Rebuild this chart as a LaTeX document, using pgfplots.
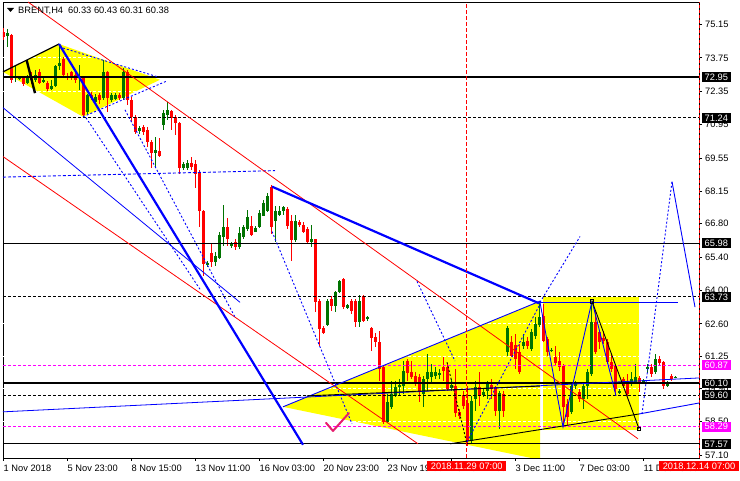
\documentclass[border=0pt]{standalone}
\usepackage{pgfplots}
\pgfplotsset{compat=1.18}
\usepackage{pgfplotstable}
\usepackage{fontspec}
\setmainfont{Liberation Sans}
\definecolor{bull}{RGB}{0,115,0}
\definecolor{bear}{RGB}{255,0,0}
\definecolor{yel}{RGB}{255,255,0}
\definecolor{mag}{RGB}{255,0,255}
\definecolor{blu}{RGB}{0,0,255}
\definecolor{chk}{RGB}{230,30,110}
\newcommand\lab{\fontsize{9.3}{11}\selectfont}

\pgfplotstableread{
k o h l c
0 74.83 75.00 74.50 74.62
2 74.71 74.75 72.70 72.83
5 72.91 72.99 72.57 72.66
7 72.99 73.16 72.66 72.83
9 73.16 73.29 72.66 72.70
11 72.70 72.78 72.37 72.45
15 73.70 73.79 72.91 73.03
16 72.99 73.12 72.83 72.91
17 73.16 73.20 72.83 72.95
18 73.03 73.24 72.70 72.83
20 72.91 72.99 71.28 71.36
22 72.20 72.32 71.99 72.07
24 72.20 72.28 71.82 71.99
26 73.16 73.20 71.49 72.07
29 72.20 72.28 71.99 72.07
31 73.16 73.24 71.78 71.99
32 71.99 72.12 71.07 71.28
33 71.28 71.36 70.57 70.65
35 70.86 70.95 70.53 70.65
36 70.74 70.86 70.03 70.23
37 70.23 70.32 69.15 69.77
39 69.86 70.40 69.61 69.65
42 71.53 71.57 70.74 71.24
43 71.28 71.36 70.53 71.03
44 71.03 71.07 68.86 69.15
47 69.36 69.61 69.06 69.19
48 69.31 69.48 68.31 68.86
49 68.98 69.06 66.64 67.31
50 67.35 67.39 64.59 65.09
52 65.55 65.93 64.97 65.18
56 66.64 67.02 65.85 66.14
58 66.01 66.14 65.68 65.80
62 66.68 67.10 66.26 66.31
67 68.35 68.40 66.35 66.64
71 67.43 67.48 66.56 66.68
72 66.89 67.18 65.22 66.10
74 66.85 66.97 66.64 66.76
75 66.76 66.85 66.39 66.47
76 66.56 66.64 65.93 66.01
78 66.14 66.16 63.09 63.50
79 63.55 63.63 61.67 62.38
80 62.42 62.50 62.17 62.21
82 63.63 63.76 63.13 63.34
85 64.47 64.51 63.21 63.30
87 63.55 63.63 63.00 63.13
88 63.55 63.63 62.46 62.67
90 63.76 63.80 62.67 62.71
92 62.42 62.46 61.46 62.00
93 62.04 62.21 61.62 61.83
94 61.83 62.29 60.20 60.70
95 60.79 60.83 58.41 58.49
101 61.04 61.12 60.20 60.54
102 60.58 61.04 60.29 60.37
103 60.41 60.58 59.99 60.16
104 60.37 60.50 59.32 59.74
110 60.79 61.21 60.20 60.62
111 60.79 60.91 59.78 59.87
113 59.99 60.70 58.70 58.86
114 58.91 59.03 58.61 58.74
115 59.62 59.78 59.03 59.16
116 59.28 59.99 57.49 57.69
119 59.95 60.58 59.16 59.58
122 60.04 60.29 59.45 59.87
123 59.95 59.99 58.74 58.95
125 59.66 59.78 58.70 58.95
127 61.83 62.08 61.21 61.25
128 61.71 62.17 60.70 61.12
129 61.41 61.75 60.50 60.58
131 61.87 62.04 61.54 61.67
135 62.92 63.42 61.83 61.87
136 61.96 62.04 61.25 61.41
138 61.21 61.67 60.83 60.95
139 61.04 61.41 60.62 60.79
140 60.83 60.91 58.28 59.12
141 59.24 59.45 58.36 58.70
144 59.74 59.87 59.32 59.45
148 62.67 63.09 61.33 61.41
149 62.25 62.33 61.54 61.83
150 62.00 62.29 61.75 61.87
151 61.83 61.96 60.91 61.00
152 61.00 61.33 60.58 60.70
153 60.83 60.91 59.58 59.87
155 60.29 60.37 59.91 59.99
156 60.08 60.50 59.58 59.66
159 60.33 60.41 59.74 60.08
162 60.79 60.91 60.37 60.50
164 61.12 61.25 60.83 60.95
165 61.00 61.04 59.87 59.99
167 60.41 60.50 60.20 60.29
}\beartab

\pgfplotstableread{
k o h l c
1 74.67 74.96 74.21 74.79
3 72.91 73.45 72.74 72.95
4 72.91 72.99 72.83 72.92
6 72.70 73.03 72.66 72.91
8 72.83 73.24 72.74 73.03
10 72.74 72.91 72.70 72.83
12 72.45 72.83 72.41 72.57
13 72.57 73.45 72.53 73.41
14 73.41 74.33 73.24 73.54
19 72.91 73.45 72.41 72.99
21 71.49 72.24 71.40 72.20
23 71.91 72.24 71.82 72.12
25 72.07 73.66 71.99 73.16
27 71.99 72.28 71.91 72.20
28 72.03 72.28 71.99 72.20
30 72.07 73.33 71.99 73.16
34 70.69 70.90 70.57 70.82
38 69.77 70.44 69.19 69.90
40 70.95 71.57 70.74 71.45
41 71.36 71.91 71.15 71.57
45 69.15 69.40 69.06 69.31
46 69.15 69.48 69.06 69.36
51 65.05 65.22 64.97 65.13
53 65.18 65.59 65.01 65.43
54 65.34 66.47 65.30 66.31
55 66.26 67.60 65.85 66.64
57 65.85 66.01 65.76 65.93
59 65.80 66.64 65.72 66.39
60 66.26 66.76 66.14 66.64
61 66.56 67.39 66.47 67.06
63 66.47 66.72 66.43 66.60
64 66.64 67.39 66.60 67.23
65 67.14 67.77 67.10 67.68
66 67.31 68.10 67.27 67.94
68 66.89 67.52 66.01 67.31
69 67.18 67.52 67.10 67.35
70 67.31 67.56 67.18 67.48
73 66.10 67.18 66.01 66.89
77 66.01 66.76 65.80 66.14
81 62.54 63.63 62.50 63.55
83 63.34 63.96 63.09 63.92
84 63.92 64.42 63.88 64.38
86 63.25 63.42 63.21 63.38
89 62.67 63.80 62.46 63.55
91 62.79 62.92 62.71 62.88
96 58.49 59.66 58.45 59.32
97 59.12 60.20 59.03 59.66
98 59.58 60.20 59.53 59.95
99 59.95 60.29 59.58 60.04
100 59.99 61.04 59.66 60.62
105 59.66 60.41 59.12 60.29
106 60.29 61.33 59.78 60.58
107 60.37 60.91 60.08 60.58
108 60.41 60.79 60.29 60.58
109 60.45 60.70 60.29 60.54
112 59.91 60.29 59.78 60.04
117 57.69 59.58 57.61 59.37
118 59.45 60.20 58.95 59.95
120 59.62 59.87 59.53 59.74
121 59.78 60.20 59.45 60.08
124 58.95 59.78 58.20 59.70
126 61.41 62.50 61.25 62.42
130 61.67 62.17 61.54 61.83
132 61.54 62.38 61.46 62.25
133 62.08 62.88 61.96 62.59
134 62.54 63.55 62.46 62.88
137 61.50 61.58 61.41 61.51
142 58.91 60.16 58.82 59.99
143 59.99 60.20 59.87 60.08
145 59.45 60.08 59.03 59.99
146 59.99 60.70 59.45 60.58
147 60.50 63.50 60.41 62.67
154 59.74 59.87 59.66 59.78
157 60.08 60.58 59.99 60.29
158 60.16 60.91 60.08 60.37
160 60.16 60.29 60.08 60.24
161 60.70 60.91 60.54 60.79
163 60.58 61.33 60.50 61.12
166 59.99 60.20 59.95 60.12
168 60.33 60.43 60.31 60.38
}\bulltab

\begin{document}
\begin{tikzpicture}
\useasboundingbox (-3pt,-22pt) rectangle (737pt,458pt);
\begin{axis}[
  at={(0,0)}, anchor=south west,
  width=696pt, height=456pt, scale only axis,
  xmin=-0.1, xmax=173.9, ymin=56.975, ymax=76.09,
  clip mode=individual,
  axis line style={line width=0.8pt, black},
  xtick={-0.1,15.9,31.9,47.9,63.9,79.9,95.9,111.9,127.9,143.9,159.9},
  xticklabels={1 Nov 2018, 5 Nov 23:00, 8 Nov 15:00, 13 Nov 11:00, 16 Nov 03:00, 20 Nov 23:00, 23 Nov 19:00, 28 Nov 11:00, 3 Dec 11:00, 7 Dec 03:00, 11 Dec 19:00},
  ytick={57.10,58.50,59.90,61.25,62.60,64.00,65.40,66.80,68.15,69.55,70.95,72.35,73.75,75.15},
  yticklabels={57.10,58.50,59.90,61.25,62.60,64.00,65.40,66.80,68.15,69.55,70.95,72.35,73.75,75.15},
  xtick pos=bottom, ytick pos=right, yticklabel pos=right,
  tick align=outside, major tick length=3pt,
  tick style={black, line width=0.8pt},
  tick label style={font=\lab, black},
  xticklabel style={anchor=north west, inner sep=0pt, yshift=-4pt, xshift=0.5pt},
  yticklabel style={anchor=west, inner sep=0pt, xshift=3pt},
]
% yellow shapes
\addplot[fill=yel, draw=none, forget plot] coordinates {(-0.1,73.16) (13.9,74.33) (39.15,72.83) (19.9,71.28)} -- cycle;
\addplot[fill=yel, draw=none, forget plot] coordinates {(69.9,59.12) (134.15,63.55) (134.15,56.90)} -- cycle;
\addplot[fill=yel, draw=none, forget plot] coordinates {(134.9,63.73) (158.9,63.73) (158.9,58.13) (134.9,58.13)} -- cycle;
% white grid dashes (visible on yellow only)
\foreach \v in {73.75,72.35,62.60,61.25,59.90,58.50}{
  \edef\tmp{\noexpand\addplot[white, line width=0.8pt, dash pattern=on 3pt off 2pt, forget plot] coordinates {(-0.1,\v) (173.9,\v)};}\tmp
}
% candles
\addplot[draw=none, mark=none, forget plot, error bars/.cd, y dir=both, y explicit, error mark=none, error bar style={draw=bear, line width=1pt}]
  table[x=k, y expr={(\thisrow{h}+\thisrow{l})/2}, y error expr={(\thisrow{h}-\thisrow{l})/2}] {\beartab};
\addplot[draw=none, mark=none, forget plot, error bars/.cd, y dir=both, y explicit, error mark=none, error bar style={draw=bear, line width=3pt}]
  table[x=k, y expr={(\thisrow{o}+\thisrow{c})/2}, y error expr={max(abs(\thisrow{c}-\thisrow{o})/2,0.015)}] {\beartab};
\addplot[draw=none, mark=none, forget plot, error bars/.cd, y dir=both, y explicit, error mark=none, error bar style={draw=bull, line width=1pt}]
  table[x=k, y expr={(\thisrow{h}+\thisrow{l})/2}, y error expr={(\thisrow{h}-\thisrow{l})/2}] {\bulltab};
\addplot[draw=none, mark=none, forget plot, error bars/.cd, y dir=both, y explicit, error mark=none, error bar style={draw=bull, line width=3pt}]
  table[x=k, y expr={(\thisrow{o}+\thisrow{c})/2}, y error expr={max(abs(\thisrow{c}-\thisrow{o})/2,0.015)}] {\bulltab};
% horizontal levels
\addplot[black, line width=2pt, forget plot] coordinates {(-0.1,72.95) (173.9,72.95)};
\addplot[black, line width=0.9pt, dash pattern=on 3pt off 2pt, forget plot] coordinates {(-0.1,71.24) (173.9,71.24)};
\addplot[black, line width=0.9pt, forget plot] coordinates {(-0.1,65.98) (173.9,65.98)};
\addplot[black, line width=0.9pt, dash pattern=on 3pt off 2pt, forget plot] coordinates {(-0.1,63.73) (173.9,63.73)};
\addplot[mag, line width=0.9pt, dash pattern=on 3pt off 2pt, forget plot] coordinates {(-0.1,60.87) (173.9,60.87)};
\addplot[black, line width=2pt, forget plot] coordinates {(-0.1,60.10) (173.9,60.10)};
\addplot[black, line width=0.9pt, dash pattern=on 3pt off 2pt, forget plot] coordinates {(-0.1,59.60) (173.9,59.60)};
\addplot[mag, line width=0.9pt, dash pattern=on 3pt off 2pt, forget plot] coordinates {(-0.1,58.29) (173.9,58.29)};
\addplot[black, line width=0.9pt, forget plot] coordinates {(-0.1,57.57) (173.9,57.57)};
\addplot[blu, line width=0.9pt, dash pattern=on 3pt off 2pt, forget plot] coordinates {(-0.1,68.75) (67.9,69.02)};
% red channel lines
\addplot[bear, line width=0.8pt, forget plot] coordinates {(6.15,76.09) (158.65,57.78)};
\addplot[bear, line width=0.8pt, forget plot] coordinates {(-0.1,69.61) (103.65,57.57)};
% left diamond details
\addplot[black, line width=1.2pt, forget plot] coordinates {(-0.1,73.16) (13.9,74.33)};
\addplot[black, line width=2.4pt, forget plot] coordinates {(5.8,73.66) (7.9,72.27)};
\addplot[blu, line width=0.9pt, dash pattern=on 2pt off 2pt, forget plot] coordinates {(14.9,74.16) (38.65,72.95)};
\addplot[blu, line width=0.9pt, dash pattern=on 2pt off 2pt, forget plot] coordinates {(19.9,71.28) (40.9,72.78)};
% blue lines
\addplot[blu, line width=2.2pt, forget plot] coordinates {(13.9,74.33) (74.9,57.53)};
\addplot[blu, line width=0.9pt, dash pattern=on 2pt off 2pt, forget plot] coordinates {(20.65,71.24) (49.15,64.05)};
\addplot[blu, line width=0.9pt, dash pattern=on 2pt off 2pt, forget plot] coordinates {(30.4,71.57) (57.9,62.88)};
\addplot[blu, line width=0.8pt, forget plot] coordinates {(-0.1,71.66) (59.15,63.50)};
\addplot[blu, line width=0.8pt, forget plot] coordinates {(-0.1,58.91) (173.9,60.33)};
\addplot[blu, line width=2.2pt, forget plot] coordinates {(67.15,68.35) (133.9,63.46)};
\addplot[blu, line width=0.9pt, forget plot] coordinates {(69.9,59.12) (134.15,63.55)};
\addplot[blu, line width=0.9pt, forget plot] coordinates {(133.9,63.50) (168.65,63.50)};
\addplot[black, line width=0.9pt, forget plot] coordinates {(75.9,59.58) (134.15,59.99)};
\addplot[black, line width=0.9pt, forget plot] coordinates {(111.65,57.57) (158.9,58.82)};
\addplot[blu, line width=0.9pt, forget plot] coordinates {(158.9,58.82) (173.9,59.28)};
\addplot[blu, line width=0.9pt, dash pattern=on 2pt off 2pt, forget plot] coordinates {(67.15,66.47) (87.15,58.41)};
\addplot[blu, line width=0.9pt, dash pattern=on 2pt off 2pt, forget plot] coordinates {(103.4,64.38) (112.9,61.04)};
\addplot[black, line width=0.9pt, dash pattern=on 2pt off 2pt, forget plot] coordinates {(110.9,60.99) (115.9,57.57)};
\addplot[blu, line width=0.9pt, dash pattern=on 2pt off 2pt, forget plot] coordinates {(115.9,57.65) (134.15,63.42)};
\addplot[blu, line width=0.9pt, forget plot] coordinates {(134.15,63.50) (139.9,58.28) (147.15,63.55) (153.15,59.58)};
\addplot[black, line width=0.9pt, forget plot] coordinates {(147.15,63.55) (158.9,58.20)};
\addplot[blu, line width=0.9pt, dash pattern=on 2pt off 2pt, forget plot] coordinates {(134.15,63.50) (144.15,66.26)};
\addplot[blu, line width=0.9pt, dash pattern=on 2pt off 2pt, forget plot] coordinates {(159.65,58.82) (167.15,68.56)};
\addplot[blu, line width=0.9pt, forget plot] coordinates {(167.15,68.56) (172.9,63.30)};
\addplot[black, only marks, mark=square, mark size=1.8pt, mark options={line width=0.8pt}, forget plot] coordinates {(147.15,63.55) (158.9,58.20)};
% checkmark
\addplot[chk, line width=2pt, line join=round, line cap=round, forget plot] coordinates {(80.65,58.45) (82.4,58.11) (86.4,58.86)};
% vertical time line
\addplot[bear, line width=1pt, dash pattern=on 4pt off 2pt, forget plot] coordinates {(115.85,56.975) (115.85,76.09)};
% anchors for labels
\coordinate (r1) at (axis cs:173.9,72.95);
\coordinate (r2) at (axis cs:173.9,71.24);
\coordinate (r3) at (axis cs:173.9,65.98);
\coordinate (r4) at (axis cs:173.9,63.73);
\coordinate (r5) at (axis cs:173.9,60.87);
\coordinate (r6) at (axis cs:173.9,60.10);
\coordinate (r7) at (axis cs:173.9,59.60);
\coordinate (r8) at (axis cs:173.9,58.29);
\coordinate (r9) at (axis cs:173.9,57.57);
\coordinate (t1) at (axis cs:115.85,56.975);
\coordinate (t2) at (axis cs:173.9,56.975);
\end{axis}
% right edge red dashes
\draw[bear, line width=1pt, dash pattern=on 3pt off 2pt] (696pt,0pt) -- (696pt,456pt);
% boxed labels
\foreach \n/\v/\c in {r1/72.95/black, r2/71.24/black, r3/65.98/black, r4/63.73/black, r5/60.87/mag, r6/60.10/black, r7/59.60/black, r8/58.29/mag, r9/57.57/black}{
  \node[fill=\c, text=white, anchor=west, font=\lab, inner xsep=3pt, inner ysep=1.6pt, text height=6.7pt, text depth=0pt] at ([xshift=2.5pt]\n) {\v};
}
\node[fill=bear, text=white, anchor=north, font=\lab, inner xsep=3.5pt, inner ysep=2pt, text height=6.7pt, text depth=0pt] at ([yshift=-2.5pt]t1) {2018.11.29 07:00};
\node[fill=bear, text=white, anchor=north, font=\lab, inner xsep=3.5pt, inner ysep=2pt, text height=6.7pt, text depth=0pt] at ([yshift=-2.5pt]t2) {2018.12.14 07:00};
% title
\fill[black] (4pt,450pt) -- (11pt,450pt) -- (7.5pt,446pt) -- cycle;
\node[anchor=base west, inner sep=0pt, font=\lab] at (15pt,444pt) {BRENT,H4\hspace{5pt}60.33 60.43 60.31 60.38};
\end{tikzpicture}
\end{document}
